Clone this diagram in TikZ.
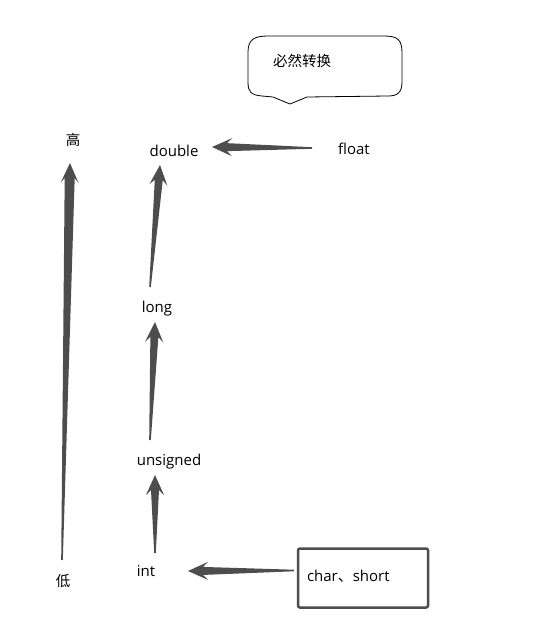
\documentclass[tikz,border=0pt]{standalone}
\usepackage{fontspec}
\setmainfont{Open Sans}
\newfontfamily\cjk{Noto Sans CJK SC}
\usetikzlibrary{calc}
\definecolor{arrgray}{HTML}{4D4D4D}
\tikzset{
  lbl/.style={inner sep=0pt, font=\fontsize{15}{17}\selectfont},
  cjklbl/.style={inner sep=0pt, font=\fontsize{14.5}{16}\selectfont\cjk},
  charbox/.style={draw=arrgray, line width=2.5pt, rounded corners=2pt, minimum height=59pt,
     text width=112pt, align=left, inner xsep=9pt, font=\fontsize{15}{17}\selectfont},
  arrfill/.style={fill=arrgray},
  callout/.style={draw=black, line width=0.8pt, fill=white}
}
% tapered fat arrow from #1 (tail) to #2 (tip); #3 half shaft width at head
\newcommand\fatarrow[3]{%
  \coordinate (fa-n) at ($(#2)!15pt!(#1)$);
  \coordinate (fa-b) at ($(#2)!20pt!(#1)$);
  \fill[arrfill] ($(#1)!0.8pt!90:(#2)$) -- ($(fa-n)!#3!90:(#2)$) -- ($(fa-b)!9pt!90:(#2)$)
     -- (#2) -- ($(fa-b)!9pt!-90:(#2)$) -- ($(fa-n)!#3!-90:(#2)$) -- ($(#1)!0.8pt!-90:(#2)$) -- cycle;
}
\begin{document}
\begin{tikzpicture}[x=1pt,y=-1pt]
\useasboundingbox (0,0) rectangle (549,634);
% callout
\draw[callout] (248,52) .. controls (248,39) and (255,36) .. (268,36) -- (384,36)
  .. controls (398,36) and (402,40) .. (402,53) -- (402,82)
  .. controls (402,93) and (397,96) .. (388,96) -- (307,97) -- (290,104) -- (273,97) -- (262,96)
  .. controls (251,95) and (248,92) .. (248,82) -- cycle;
\node[cjklbl] (must) at (302,61) {必然转换};
% labels
\node[cjklbl] (high) at (73,140) {高};
\node[cjklbl] (low) at (63,581) {低};
\node[lbl] (double) at (174,151) {double};
\node[lbl] (float) at (354,149) {float};
\node[lbl] (long) at (157,309) {long};
\node[lbl] (unsigned) at (169,462) {unsigned};
\node[lbl] (int) at (146,571) {int};
\node[charbox] (char) at (363,578) {\raisebox{4pt}{char{\cjk 、}short}};
% arrow end points
\coordinate (s1) at ($(low.center)+(-1,-21)$);
\coordinate (t1) at ($(high.center)+(-3,23)$);
\coordinate (s2) at ($(long.center)+(-7,-22)$);
\coordinate (t2) at ($(double.center)+(-14,14)$);
\coordinate (s3) at ($(unsigned.center)+(-19,-22)$);
\coordinate (t3) at ($(long.center)+(-2,13)$);
\coordinate (s4) at ($(int.center)+(9,-18)$);
\coordinate (t4) at ($(unsigned.center)+(-14,13)$);
\coordinate (s5) at ($(float.center)+(-42,-1)$);
\coordinate (t5) at ($(double.center)+(38,-4)$);
\coordinate (s6) at ($(char.west)+(-3,-7.5)$);
\coordinate (t6) at ($(int.center)+(42,0)$);
\fatarrow{s1}{t1}{5pt}
\fatarrow{s2}{t2}{4pt}
\fatarrow{s3}{t3}{4pt}
\fatarrow{s4}{t4}{4pt}
\fatarrow{s5}{t5}{4pt}
\fatarrow{s6}{t6}{4pt}
\end{tikzpicture}
\end{document}
